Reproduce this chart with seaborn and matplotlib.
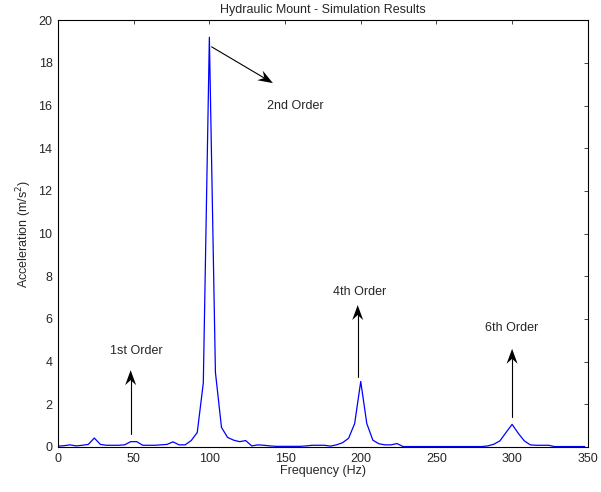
import numpy as np
import pandas as pd
import matplotlib
matplotlib.use("Agg")
import matplotlib.pyplot as plt
from matplotlib.patches import Polygon
import seaborn as sns

# -----------------------------
# Data (4 Hz spacing)
# -----------------------------
freq = list(range(0, 352, 4))
accel = [
    0.04, 0.06, 0.10, 0.05, 0.08, 0.12, 0.42, 0.12, 0.08, 0.08,   # 0-36
    0.08, 0.10, 0.25, 0.25, 0.08, 0.08, 0.08, 0.10, 0.12, 0.24,   # 40-76
    0.10, 0.10, 0.30, 0.68, 3.00, 19.20, 3.50, 0.92, 0.45, 0.32,  # 80-116
    0.25, 0.30, 0.05, 0.10, 0.08, 0.05, 0.03, 0.03, 0.03, 0.03,   # 120-156
    0.03, 0.05, 0.08, 0.08, 0.08, 0.04, 0.10, 0.20, 0.41, 1.10,   # 160-196
    3.07, 1.10, 0.32, 0.15, 0.10, 0.10, 0.16, 0.02, 0.02, 0.02,   # 200-236
    0.02, 0.02, 0.02, 0.02, 0.02, 0.02, 0.02, 0.02, 0.02, 0.02,   # 240-276
    0.02, 0.05, 0.13, 0.29, 0.68, 1.06, 0.65, 0.29, 0.10, 0.08,   # 280-316
    0.08, 0.08, 0.02, 0.02, 0.02, 0.02, 0.02, 0.02,               # 320-348
]
df = pd.DataFrame({"freq": freq, "accel": accel})

# annotation labels: text, text pos, arrow tail, arrow head
labels = ["1st Order", "2nd Order", "4th Order", "6th Order"]
text_xy = [(52, 4.5), (157, 16.0), (199, 7.26), (300, 5.57)]
tail_xy = [(48, 0.6), (101.5, 18.75), (198, 3.3), (300, 1.4)]
head_xy = [(48, 3.6), (142, 17.05), (198, 6.65), (300, 4.6)]

# -----------------------------
# Plot
# -----------------------------
sns.set_style("white")
plt.rcParams["font.family"] = ["Liberation Sans", "DejaVu Sans"]
plt.rcParams["xtick.direction"] = "in"
plt.rcParams["ytick.direction"] = "in"

fig = plt.figure(figsize=(6.01, 4.92), dpi=100)
ax = fig.add_axes([0.0965, 0.0915, 0.8815, 0.8675])

sns.lineplot(data=df, x="freq", y="accel", color="#0000ff", linewidth=0.9, ax=ax)

ax.set_xlim(0, 350)
ax.set_ylim(0, 20)


def matlab_arrow(ax, a, b, L=15, W=5.5, back=5):
    # arrow with concave ("vback2") head, drawn in pixel space
    pa = ax.transData.transform(a)
    pb = ax.transData.transform(b)
    d = pb - pa
    u = d / np.hypot(*d)
    n = np.array([-u[1], u[0]])
    base = pb - u * L
    pts = np.array([pb, base + n * W, base + u * back, base - n * W])
    inv = ax.transData.inverted()
    ax.plot([a[0], inv.transform(base + u * back)[0]],
            [a[1], inv.transform(base + u * back)[1]], color="black", lw=0.8)
    ax.add_patch(Polygon(inv.transform(pts), closed=True, color="black", lw=0))


for lab, t, a, b in zip(labels, text_xy, tail_xy, head_xy):
    matlab_arrow(ax, a, b)
    ax.text(t[0], t[1], lab, ha="center", va="center", fontsize=9)

ax.set_xticks(range(0, 351, 50))
ax.set_yticks(range(0, 21, 2))
ax.tick_params(top=True, right=True, length=3, width=0.6, labelsize=9, pad=4)
for s in ax.spines.values():
    s.set_linewidth(0.8)
    s.set_color("black")

ax.set_title("Hydraulic Mount - Simulation Results", fontsize=9, pad=5)
ax.set_xlabel("Frequency (Hz)", fontsize=9, labelpad=0)
ax.set_ylabel("Acceleration (m/s$^2$)", fontsize=9, labelpad=3)

fig.savefig("out.png", dpi=100)
